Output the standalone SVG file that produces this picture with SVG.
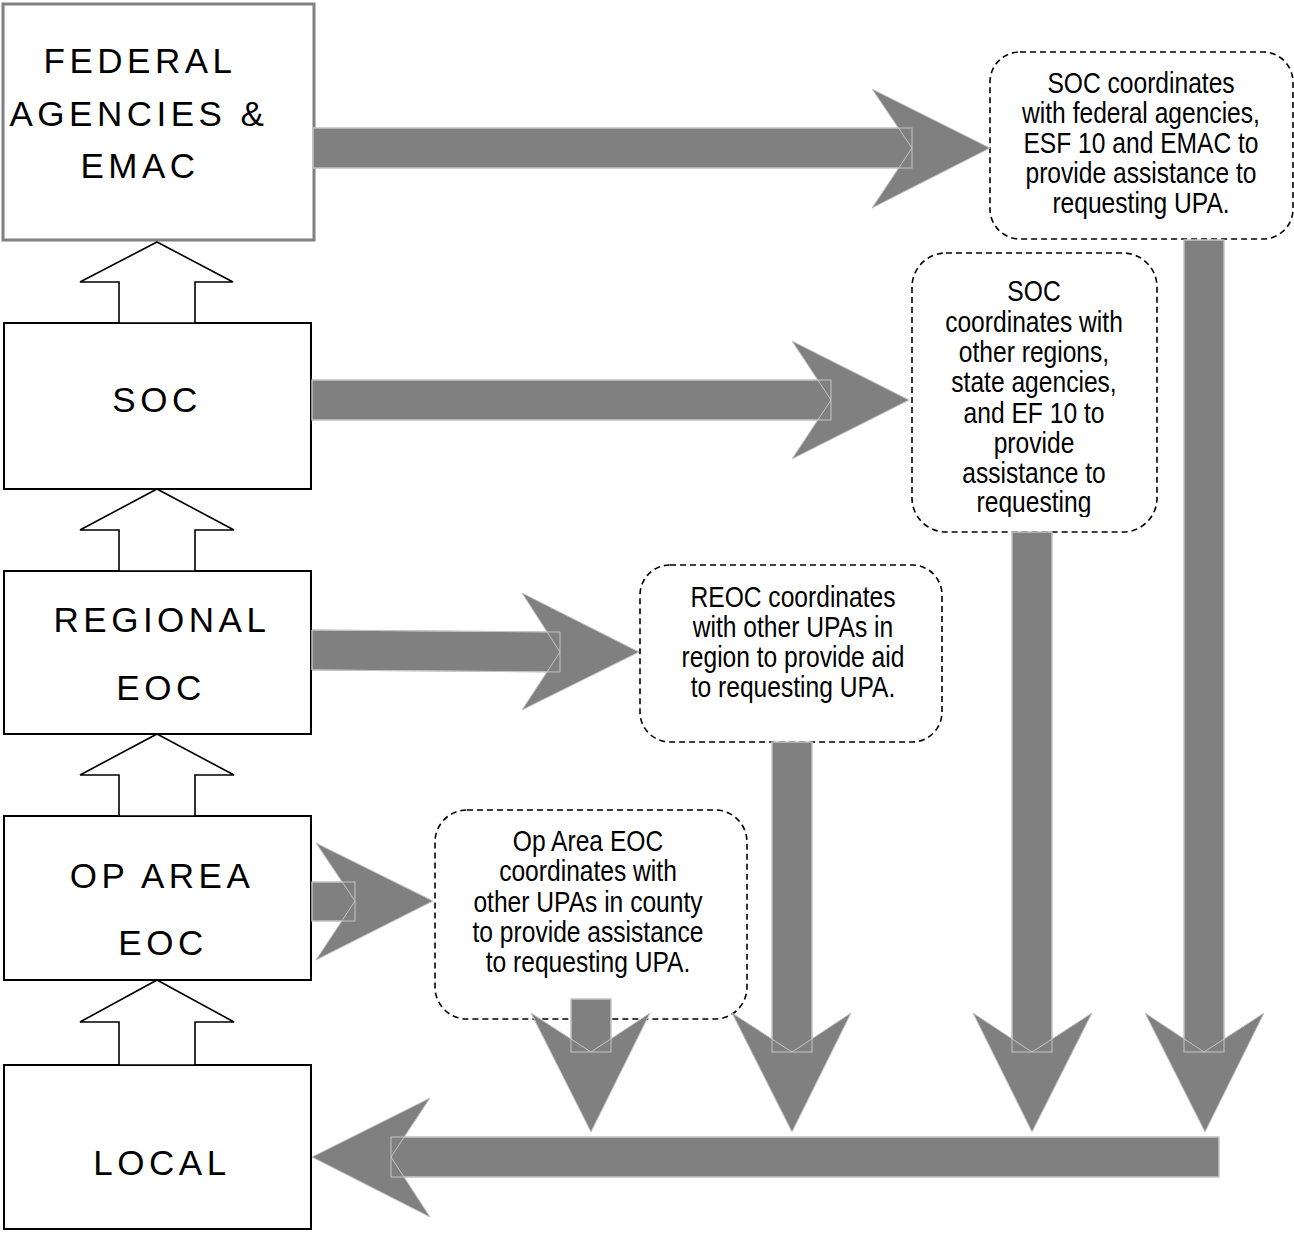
<svg xmlns="http://www.w3.org/2000/svg" width="1294" height="1233" viewBox="0 0 1294 1233">
<style>
.box{fill:#fff;stroke:#000;stroke-width:2}
.fed{fill:#fff;stroke:#808080;stroke-width:3}
.lbl{font-family:"Liberation Sans",Arial,sans-serif;font-size:35px;letter-spacing:4.5px;text-anchor:middle;fill:#000}
.up{fill:#fff;stroke:#000;stroke-width:1.6;stroke-linejoin:miter}
.note{fill:#fff;stroke:#000;stroke-width:1.6;stroke-dasharray:6 4}
.nt{font-family:"Liberation Sans",Arial,sans-serif;font-size:30px;text-anchor:middle;fill:#000}
.g{fill:#808080;stroke:#c4c4c4;stroke-width:1}
.e{fill:none;stroke:#c4c4c4;stroke-width:1}
</style>
<defs>
<clipPath id="clip2"><rect x="900" y="250" width="270" height="267"/></clipPath>
</defs>

<g id="node-federal">
<rect class="fed" x="3" y="4" width="311" height="236"/>
<text class="lbl" x="140" y="73">FEDERAL</text>
<text class="lbl" x="139" y="126">AGENCIES &amp;</text>
<text class="lbl" x="140" y="178">EMAC</text>
</g>
<g id="node-soc">
<rect class="box" x="4" y="323" width="307" height="166"/>
<text class="lbl" x="157" y="412">SOC</text>
</g>
<g id="node-regional">
<rect class="box" x="4" y="571" width="307" height="163"/>
<text class="lbl" x="162" y="632">REGIONAL</text>
<text class="lbl" x="161" y="700">EOC</text>
</g>
<g id="node-oparea">
<rect class="box" x="4" y="816" width="307" height="164"/>
<text class="lbl" x="162" y="888">OP AREA</text>
<text class="lbl" x="163" y="955">EOC</text>
</g>
<g id="node-local">
<rect class="box" x="4" y="1065" width="307" height="164"/>
<text class="lbl" x="162" y="1175">LOCAL</text>
</g>

<g id="node-note1">
<rect class="note" x="990" y="52" width="303" height="187" rx="30"/>
<g transform="translate(1141,0) scale(0.82,1)">
<text class="nt" x="0" y="93">SOC coordinates</text>
<text class="nt" x="0" y="123">with federal agencies,</text>
<text class="nt" x="0" y="153">ESF 10 and EMAC to</text>
<text class="nt" x="0" y="183">provide assistance to</text>
<text class="nt" x="0" y="213">requesting UPA.</text>
</g>
</g>
<g id="node-note2">
<rect class="note" x="912" y="253" width="245" height="279" rx="34"/>
<g clip-path="url(#clip2)">
<g transform="translate(1034,0) scale(0.82,1)">
<text class="nt" x="0" y="301">SOC</text>
<text class="nt" x="0" y="332">coordinates with</text>
<text class="nt" x="0" y="362">other regions,</text>
<text class="nt" x="0" y="392">state agencies,</text>
<text class="nt" x="0" y="423">and EF 10 to</text>
<text class="nt" x="0" y="453">provide</text>
<text class="nt" x="0" y="483">assistance to</text>
<text class="nt" x="0" y="512">requesting</text>
</g>
</g>
</g>
<g id="node-note3">
<rect class="note" x="640" y="565" width="302" height="177" rx="30"/>
<g transform="translate(793,0) scale(0.82,1)">
<text class="nt" x="0" y="607">REOC coordinates</text>
<text class="nt" x="0" y="637">with other UPAs in</text>
<text class="nt" x="0" y="667">region to provide aid</text>
<text class="nt" x="0" y="697">to requesting UPA.</text>
</g>
</g>
<g id="node-note4">
<rect class="note" x="435" y="810" width="312" height="209" rx="32"/>
<g transform="translate(588,0) scale(0.82,1)">
<text class="nt" x="0" y="851">Op Area EOC</text>
<text class="nt" x="0" y="881">coordinates with</text>
<text class="nt" x="0" y="912">other UPAs in county</text>
<text class="nt" x="0" y="942">to provide assistance</text>
<text class="nt" x="0" y="972">to requesting UPA.</text>
</g>
</g>

<g id="connectors">
<polygon class="up" points="157,242 233,282 195,282 195,323 119,323 119,282 80,282"/>
<polygon class="up" points="157,489 234,530 195,530 195,571 119,571 119,530 80,530"/>
<polygon class="up" points="157,734 234,775 195,775 195,816 119,816 119,775 80,775"/>
<polygon class="up" points="157,980 234,1022 195,1022 195,1065 119,1065 119,1022 80,1022"/>

<rect class="g" x="313" y="128" width="599" height="40"/>
<polygon class="g" points="872,89 990,148 872,208 912,148"/>
<rect class="e" x="313" y="128" width="599" height="40"/>

<rect class="g" x="312" y="380" width="519" height="40"/>
<polygon class="g" points="792,341 909,400 792,459 831,400"/>
<rect class="e" x="312" y="380" width="519" height="40"/>

<polygon class="g" points="312,630 560,632 560,672 312,670"/>
<polygon class="g" points="522,593 639,652 522,710 560,652"/>
<polygon class="e" points="312,630 560,632 560,672 312,670"/>

<rect class="g" x="312" y="882" width="43" height="39"/>
<polygon class="g" points="316,843 433,901 316,960 355,901"/>
<rect class="e" x="312" y="882" width="43" height="39"/>

<rect class="g" x="1184" y="240" width="40" height="812"/>
<polygon class="g" points="1145,1013 1204,1052 1264,1013 1205,1132"/>
<rect class="e" x="1184" y="240" width="40" height="812"/>

<rect class="g" x="1012" y="532" width="40" height="520"/>
<polygon class="g" points="973,1013 1032,1052 1092,1013 1032,1132"/>
<rect class="e" x="1012" y="532" width="40" height="520"/>

<rect class="g" x="772" y="742" width="40" height="310"/>
<polygon class="g" points="732,1013 792,1052 851,1013 792,1132"/>
<rect class="e" x="772" y="742" width="40" height="310"/>

<rect class="g" x="571" y="999" width="40" height="53"/>
<polygon class="g" points="531,1013 591,1052 650,1013 591,1132"/>
<rect class="e" x="571" y="999" width="40" height="53"/>

<rect class="g" x="391" y="1137" width="828" height="40"/>
<polygon class="g" points="430,1098 312,1157 430,1217 391,1157"/>
<rect class="e" x="391" y="1137" width="828" height="40"/>
</g>
</svg>
